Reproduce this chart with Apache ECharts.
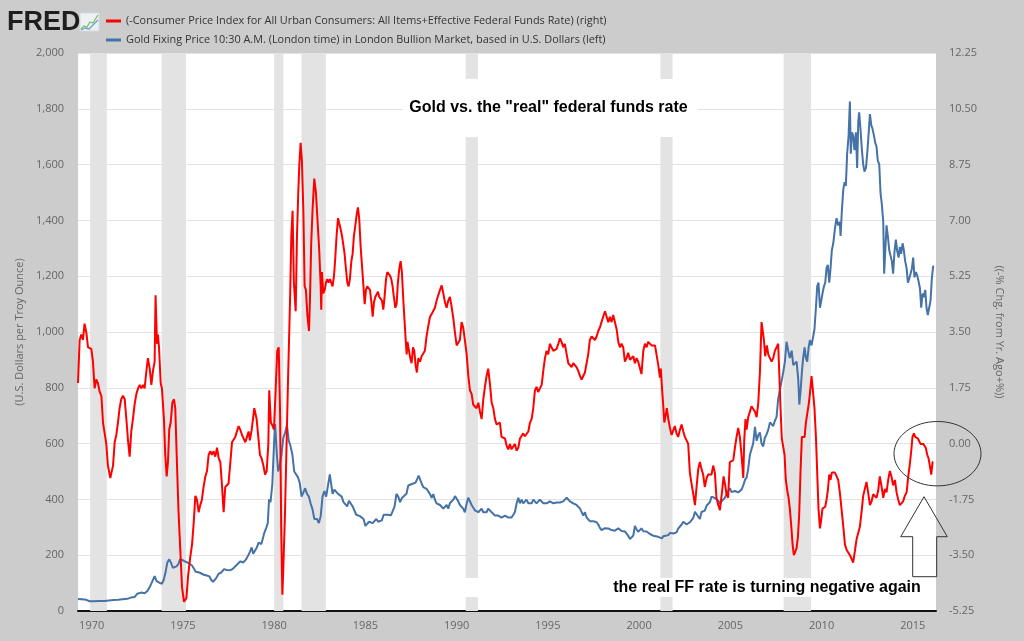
<!DOCTYPE html>
<html><head><meta charset="utf-8">
<script src="https://cdn.jsdelivr.net/npm/echarts@6/dist/echarts.min.js"></script>
<style>html,body{margin:0;padding:0;background:#cccccc}#chart{width:1024px;height:641px}</style>
</head><body><div id="chart"></div>
<script>
const redName = '(-Consumer Price Index for All Urban Consumers: All Items+Effective Federal Funds Rate) (right)';
const goldName = 'Gold Fixing Price 10:30 A.M. (London time) in London Bullion Market, based in U.S. Dollars (left)';
const xTickYears = [1970,1975,1980,1985,1990,1995,2000,2005,2010,2015];
const recessions = [[1969.917,1970.833],[1973.833,1975.167],[1980.0,1980.5],[1981.5,1982.833],[1990.5,1991.167],[2001.167,2001.833],[2007.917,2009.417]];

const realRatePoints = [
[1969.25,1.90],[1969.34,3.25],[1969.43,3.42],[1969.52,3.25],[1969.61,3.76],[1969.71,3.47],[1969.80,3.02],[1969.89,3.08],[1969.98,2.97],[1970.07,2.57],[1970.16,1.73],[1970.25,2.01],[1970.34,1.90],[1970.44,1.62],[1970.53,1.50],[1970.62,0.66],[1970.71,0.60],[1970.80,-0.01],[1970.89,-0.69],[1971.02,-1.08],[1971.17,-0.69],[1971.26,0.04],[1971.35,0.27],[1971.44,0.66],[1971.53,1.11],[1971.62,1.39],[1971.71,1.50],[1971.81,1.39],[1971.90,0.77],[1971.99,0.10],[1972.08,-0.41],[1972.17,0.38],[1972.26,0.77],[1972.35,1.22],[1972.45,1.56],[1972.54,1.73],[1972.63,1.84],[1972.72,1.73],[1972.81,1.84],[1972.90,1.73],[1972.99,2.23],[1973.08,2.68],[1973.18,2.35],[1973.27,1.84],[1973.36,2.29],[1973.45,2.57],[1973.50,4.65],[1973.58,3.13],[1973.63,3.42],[1973.69,3.02],[1973.78,1.90],[1973.85,1.73],[1973.96,0.77],[1974.03,-0.35],[1974.11,-1.03],[1974.18,-0.58],[1974.25,0.44],[1974.33,0.66],[1974.42,1.28],[1974.51,1.39],[1974.58,1.11],[1974.67,-0.58],[1974.76,-2.15],[1974.86,-3.39],[1974.95,-4.51],[1975.06,-4.96],[1975.19,-4.85],[1975.28,-4.17],[1975.39,-3.61],[1975.50,-3.16],[1975.59,-2.49],[1975.68,-1.64],[1975.77,-1.76],[1975.86,-2.15],[1975.95,-1.93],[1976.04,-1.76],[1976.13,-1.36],[1976.23,-1.03],[1976.32,-0.86],[1976.41,-0.35],[1976.50,-0.24],[1976.59,-0.35],[1976.68,-0.24],[1976.77,-0.41],[1976.87,-0.13],[1976.96,-0.46],[1977.05,-0.58],[1977.14,-1.31],[1977.23,-2.15],[1977.32,-1.36],[1977.41,-1.31],[1977.50,-1.25],[1977.60,-0.58],[1977.69,0.04],[1977.78,-0.01],[1977.87,0.21],[1977.96,0.16],[1978.05,0.55],[1978.14,0.44],[1978.24,0.27],[1978.33,0.21],[1978.42,0.04],[1978.51,0.21],[1978.60,0.38],
[1978.67,0.10],[1978.77,0.44],[1978.91,1.11],[1979.04,0.77],[1979.13,0.21],[1979.22,-0.35],[1979.31,-0.46],[1979.41,-0.69],[1979.50,-0.97],[1979.59,-0.86],[1979.68,-0.01],[1979.73,1.67],[1979.82,0.66],[1979.92,0.55],[1979.99,0.44],[1980.08,1.67],[1980.17,2.91],[1980.25,3.02],[1980.32,1.11],[1980.39,-2.83],[1980.45,-4.74],[1980.50,-3.95],[1980.59,-2.26],[1980.68,-0.01],[1980.77,2.23],[1980.87,4.48],[1980.94,6.51],[1981.01,7.30],[1981.08,5.05],[1981.18,4.15],[1981.25,6.51],[1981.32,7.86],[1981.38,8.76],[1981.45,9.43],[1981.52,8.87],[1981.60,7.30],[1981.67,4.93],[1981.74,4.82],[1981.82,4.03],[1981.91,3.53],[1981.96,4.48],[1982.03,6.28],[1982.11,7.41],[1982.20,8.31],[1982.29,7.86],[1982.38,6.96],[1982.47,6.06],[1982.55,4.93],[1982.58,4.20],[1982.62,5.38],[1982.69,4.71],[1982.77,4.82],[1982.84,5.05],[1982.91,5.16],[1982.98,5.05],[1983.06,5.16],[1983.13,5.16],[1983.20,4.93],[1983.28,5.27],[1983.35,5.83],[1983.42,6.51],[1983.50,7.07],[1983.57,7.07],[1983.64,6.73],[1983.72,6.51],[1983.79,6.23],[1983.86,5.95],[1983.93,5.50],[1984.01,5.05],[1984.08,4.93],[1984.15,5.16],[1984.23,5.72],[1984.30,5.95],[1984.37,6.51],[1984.45,6.85],[1984.52,7.18],[1984.59,7.41],[1984.66,7.07],[1984.74,6.17],[1984.81,5.61],[1984.88,5.05],[1984.96,4.37],[1985.03,4.82],[1985.10,4.93],[1985.18,4.88],[1985.25,4.82],[1985.32,4.48],[1985.40,3.98],[1985.47,4.43],[1985.54,4.60],[1985.61,4.65],[1985.69,4.76],[1985.76,4.60],[1985.83,4.54],[1985.91,4.48],[1985.98,4.20],[1986.05,4.60],[1986.13,5.16],[1986.20,5.38],[1986.27,5.44],[1986.35,5.27],[1986.42,5.16],[1986.49,4.93],[1986.56,4.60],[1986.64,4.26],[1986.71,4.37],[1986.78,5.05],[1986.86,5.50],[1986.93,5.72],[1987.00,5.38],[1987.08,4.48],[1987.15,3.81],[1987.22,3.13],[1987.26,2.80],[1987.31,3.19],[1987.39,2.91],[1987.46,2.68],[1987.53,2.52],[1987.61,3.02],[1987.68,2.91],[1987.75,2.46],[1987.82,2.23],[1987.90,2.68],
[1987.99,2.57],[1988.08,2.74],[1988.17,2.68],[1988.26,2.91],[1988.35,3.36],[1988.45,3.70],[1988.54,3.98],[1988.63,4.06],[1988.72,4.09],[1988.81,4.26],[1988.90,4.48],[1988.99,4.65],[1989.09,4.82],[1989.18,4.96],[1989.27,4.71],[1989.36,4.43],[1989.45,4.26],[1989.54,4.48],[1989.63,4.60],[1989.72,4.31],[1989.82,3.92],[1989.91,3.47],[1990.00,3.08],[1990.09,3.02],[1990.18,3.25],[1990.27,3.81],[1990.36,3.64],[1990.45,3.25],[1990.55,2.80],[1990.64,2.12],[1990.73,1.67],[1990.82,1.56],[1990.91,1.22],[1991.00,1.28],[1991.09,1.11],[1991.19,1.28],[1991.28,1.00],[1991.37,0.77],[1991.46,1.39],[1991.55,1.78],[1991.64,2.12],[1991.73,2.35],[1991.82,1.90],[1991.92,1.28],[1992.01,1.11],[1992.10,0.77],[1992.19,0.60],[1992.28,0.55],[1992.37,0.66],[1992.46,0.21],[1992.55,0.21],[1992.65,0.16],[1992.74,-0.07],[1992.83,-0.18],[1992.92,-0.01],[1993.01,-0.18],[1993.10,-0.13],[1993.19,-0.01],[1993.29,-0.22],[1993.38,-0.13],[1993.47,0.16],[1993.56,0.21],[1993.65,0.32],[1993.74,0.23],[1993.83,0.21],[1993.93,0.38],[1994.02,0.66],[1994.11,0.77],[1994.20,1.11],[1994.29,1.67],[1994.38,1.78],[1994.47,1.62],[1994.56,1.56],[1994.66,1.84],[1994.75,2.29],[1994.84,2.68],[1994.93,2.91],[1995.02,2.80],[1995.11,3.13],[1995.20,3.02],[1995.30,2.91],[1995.39,2.97],[1995.48,2.97],[1995.57,3.13],[1995.66,3.30],[1995.75,3.19],[1995.84,3.02],[1995.93,3.13],[1996.03,2.80],[1996.12,2.52],[1996.21,2.46],[1996.30,2.40],[1996.39,2.52],[1996.48,2.46],[1996.57,2.40],[1996.66,2.29],[1996.76,2.12],[1996.85,2.01],[1996.94,1.95],[1997.03,2.23],[1997.12,2.29],[1997.21,2.80],[1997.30,3.25],[1997.40,3.36],[1997.49,3.36],
[1997.58,3.25],[1997.67,3.36],[1997.76,3.53],[1997.85,3.64],[1997.94,3.81],[1998.03,3.98],[1998.13,4.15],[1998.22,3.98],[1998.31,3.81],[1998.40,3.98],[1998.49,3.81],[1998.58,4.03],[1998.67,4.06],[1998.77,3.58],[1998.86,3.19],[1998.95,3.02],[1999.04,3.13],[1999.13,3.02],[1999.22,2.57],[1999.31,2.68],[1999.40,2.85],[1999.50,2.63],[1999.59,2.68],[1999.68,2.74],[1999.77,2.52],[1999.86,2.68],[1999.95,2.57],[2000.04,2.63],[2000.13,2.18],[2000.23,2.91],[2000.32,3.13],[2000.41,3.02],[2000.50,3.19],[2000.59,3.13],[2000.68,3.08],[2000.77,3.13],[2000.87,3.08],[2000.96,3.02],[2001.05,2.46],[2001.14,2.07],[2001.19,2.35],[2001.25,1.78],[2001.32,1.22],[2001.38,0.66],[2001.45,0.88],[2001.52,1.11],[2001.60,0.77],[2001.69,0.49],[2001.78,0.27],[2001.87,0.21],[2001.96,0.55],[2002.05,0.32],[2002.14,0.21],[2002.24,0.44],[2002.33,0.60],[2002.42,0.38],[2002.51,0.21],[2002.60,0.16],[2002.69,-0.01],[2002.78,-0.91],[2002.87,-1.25],[2002.97,-1.59],[2003.06,-1.93],[2003.15,-1.36],[2003.24,-0.80],[2003.33,-0.58],[2003.42,-0.80],[2003.51,-0.97],[2003.60,-1.36],[2003.70,-1.08],[2003.79,-0.97],[2003.88,-0.91],[2003.97,-0.97],[2004.06,-0.69],[2004.15,-0.91],[2004.24,-1.70],[2004.34,-1.93],[2004.43,-2.09],[2004.48,-1.81],[2004.55,-1.48],[2004.63,-1.03],[2004.70,-1.25],[2004.79,-1.59],[2004.88,-1.70],[2004.97,-0.58],[2005.07,-0.52],[2005.16,-0.52],[2005.25,-0.13],[2005.34,0.21],[2005.43,0.49],[2005.52,0.21],[2005.61,-0.35],[2005.71,-1.08],[2005.76,0.10],[2005.83,0.77],[2005.89,0.44],[2005.98,0.83],[2006.07,0.88],[2006.16,1.17],[2006.25,1.22],[2006.35,1.00],[2006.44,0.83],[2006.53,1.28],[2006.62,2.23],[2006.71,3.81],[2006.77,3.87],[2006.84,3.25],[2006.91,2.74],[2007.00,3.08],[2007.08,2.80],
[2007.17,2.68],[2007.26,2.57],[2007.35,2.68],[2007.44,2.91],[2007.53,3.02],[2007.62,3.13],[2007.68,2.23],[2007.75,1.11],[2007.82,0.16],[2007.90,0.10],[2007.97,-0.35],[2008.04,-1.14],[2008.12,-1.48],[2008.19,-1.70],[2008.26,-2.04],[2008.34,-2.60],[2008.41,-3.16],[2008.48,-3.50],[2008.56,-3.39],[2008.63,-3.28],[2008.70,-2.94],[2008.77,-2.26],[2008.85,-0.80],[2008.92,0.21],[2008.99,0.27],[2009.07,0.21],[2009.14,0.66],[2009.21,0.72],[2009.29,1.22],[2009.36,1.56],[2009.45,2.12],[2009.54,1.56],[2009.61,1.11],[2009.69,0.21],[2009.76,-0.91],[2009.83,-2.04],[2009.91,-2.66],[2009.98,-2.38],[2010.05,-2.04],[2010.13,-2.04],[2010.20,-1.98],[2010.27,-1.76],[2010.34,-1.48],[2010.42,-0.97],[2010.49,-1.14],[2010.56,-0.91],[2010.64,-0.97],[2010.73,-0.91],[2010.82,-0.86],[2010.91,-1.14],[2011.00,-1.53],[2011.09,-2.04],[2011.19,-2.60],[2011.28,-3.16],[2011.37,-3.33],[2011.46,-3.33],[2011.55,-3.50],[2011.64,-3.61],[2011.73,-3.73],[2011.82,-3.39],[2011.92,-2.99],[2012.01,-2.94],[2012.10,-2.60],[2012.19,-2.15],[2012.28,-1.64],[2012.37,-1.42],[2012.46,-1.20],[2012.55,-1.53],[2012.65,-1.93],[2012.74,-1.81],[2012.83,-1.59],[2012.92,-1.64],[2013.01,-1.70],[2013.10,-1.48],[2013.19,-1.03],[2013.29,-1.36],[2013.38,-1.70],[2013.47,-1.42],[2013.56,-1.53],[2013.65,-1.14],[2013.74,-0.86],[2013.83,-1.03],[2013.92,-1.31],[2014.02,-1.14],[2014.11,-1.53],[2014.20,-1.76],[2014.29,-1.93],[2014.38,-1.98],[2014.47,-1.81],[2014.56,-1.64],[2014.66,-1.53],[2014.75,-1.03],[2014.84,-0.63],[2014.93,-0.13],[2014.98,0.21],[2015.06,0.32],[2015.13,0.21],[2015.20,0.27],[2015.28,0.16],[2015.35,0.10],[2015.42,-0.01],[2015.50,-0.07],[2015.57,-0.01],[2015.64,0.04],[2015.71,-0.13],[2015.79,-0.35],[2015.86,-0.46],[2015.93,-0.69],[2016.01,-0.97],[2016.08,-0.58],[2016.12,-0.58]
];

const goldPoints = [
[1969.25,43],[1969.45,42],[1969.70,40],[1969.90,35],[1970.10,35],[1970.40,35.5],[1970.70,36],[1970.95,37.5],[1971.20,39],[1971.45,40],[1971.70,42],[1971.95,43.5],[1972.15,48],[1972.35,50],[1972.50,62],[1972.70,66],[1972.90,63.5],[1973.05,72],[1973.20,88],[1973.30,92],[1973.45,125],[1973.55,108],[1973.70,102],[1973.85,97],[1973.95,112],[1974.05,140],[1974.15,175],[1974.25,185],[1974.35,172],[1974.45,155],[1974.55,158],[1974.65,160],[1974.75,168],[1974.85,186],[1974.95,190],[1975.05,180],[1975.15,182],[1975.30,172],[1975.40,166],[1975.50,163],[1975.60,152],[1975.70,141],[1975.80,142],[1975.90,138],[1976.00,132],[1976.15,130],[1976.30,127],[1976.45,124],[1976.55,112],[1976.65,104],[1976.80,116],[1976.95,133],[1977.10,138],[1977.25,150],[1977.40,147],[1977.50,142],[1977.60,146],[1977.75,152],[1977.90,162],[1978.00,168],[1978.15,178],[1978.30,174],[1978.45,184],[1978.60,202],
[1978.67,212],[1978.77,228],[1978.85,205],[1978.95,200],[1979.05,228],[1979.15,245],[1979.30,240],[1979.45,278],[1979.55,295],[1979.65,315],[1979.72,400],[1979.80,390],[1979.90,455],[1980.00,610],[1980.05,670],[1980.15,560],[1980.22,500],[1980.30,520],[1980.40,560],[1980.50,620],[1980.60,640],[1980.70,665],[1980.80,610],[1980.90,590],[1981.00,560],[1981.10,500],[1981.20,505],[1981.30,480],[1981.40,460],[1981.50,410],[1981.60,410],[1981.70,440],[1981.80,420],[1981.90,410],[1982.00,385],[1982.10,365],[1982.20,330],[1982.35,330],[1982.45,315],[1982.55,340],[1982.65,410],[1982.75,430],[1982.85,410],[1982.95,450],[1983.05,490],[1983.12,495],[1983.20,420],[1983.30,435],[1983.40,440],[1983.50,420],[1983.60,415],[1983.70,410],[1983.80,390],[1983.90,385],[1984.00,375],[1984.10,395],[1984.20,390],[1984.30,375],[1984.40,375],[1984.50,345],[1984.60,345],[1984.70,340],[1984.80,335],[1984.90,330],[1985.00,305],[1985.10,300],[1985.20,320],[1985.30,325],[1985.40,315],[1985.50,317],[1985.60,330],[1985.70,320],[1985.80,325],[1985.90,325],[1986.00,345],[1986.10,340],[1986.20,345],[1986.30,340],[1986.40,343],[1986.50,345],[1986.60,375],[1986.70,420],[1986.80,410],[1986.90,390],[1987.00,405],[1987.10,400],[1987.25,420],[1987.35,450],[1987.45,445],[1987.55,455],[1987.65,460],[1987.75,460],[1987.85,465],[1987.92,485],
[1987.99,489],[1988.08,457],[1988.17,444],[1988.26,450],[1988.35,438],[1988.45,431],[1988.54,419],[1988.63,406],[1988.72,419],[1988.81,399],[1988.90,386],[1988.99,386],[1989.09,380],[1989.18,374],[1989.27,367],[1989.36,374],[1989.45,380],[1989.54,367],[1989.63,386],[1989.72,380],[1989.82,399],[1989.91,412],[1990.00,419],[1990.09,393],[1990.18,380],[1990.27,374],[1990.36,367],[1990.45,354],[1990.55,386],[1990.64,406],[1990.73,393],[1990.82,380],[1990.91,374],[1991.00,361],[1991.09,361],[1991.19,354],[1991.28,361],[1991.37,367],[1991.46,354],[1991.55,348],[1991.64,354],[1991.73,367],[1991.82,361],[1991.92,354],[1992.01,348],[1992.10,342],[1992.19,348],[1992.28,342],[1992.37,348],[1992.46,335],[1992.55,342],[1992.65,342],[1992.74,335],[1992.83,335],[1992.92,342],[1993.01,335],[1993.10,342],[1993.19,354],[1993.29,386],[1993.38,406],[1993.47,386],[1993.56,399],[1993.65,386],[1993.74,393],[1993.83,399],[1993.93,386],[1994.02,393],[1994.11,386],[1994.20,399],[1994.29,393],[1994.38,386],[1994.47,393],[1994.56,399],[1994.66,393],[1994.75,386],[1994.84,393],[1994.93,386],[1995.02,386],[1995.11,393],[1995.20,389],[1995.30,386],[1995.39,393],[1995.48,389],[1995.57,386],[1995.66,389],[1995.75,386],[1995.84,393],[1995.93,399],[1996.03,406],[1996.12,399],[1996.21,393],[1996.30,389],[1996.39,386],[1996.48,389],[1996.57,380],[1996.66,374],[1996.76,367],[1996.85,361],[1996.94,342],[1997.03,354],[1997.12,335],[1997.21,329],[1997.30,322],[1997.40,316],[1997.49,322],
[1997.58,322],[1997.67,318],[1997.76,310],[1997.85,298],[1997.94,290],[1998.03,290],[1998.13,297],[1998.22,300],[1998.31,296],[1998.40,298],[1998.49,290],[1998.58,284],[1998.67,288],[1998.77,295],[1998.86,296],[1998.95,290],[1999.04,287],[1999.13,288],[1999.22,285],[1999.31,280],[1999.40,270],[1999.50,258],[1999.59,256],[1999.68,270],[1999.77,305],[1999.86,292],[1999.95,284],[2000.04,288],[2000.13,296],[2000.23,286],[2000.32,280],[2000.41,285],[2000.50,288],[2000.59,276],[2000.68,272],[2000.77,270],[2000.87,265],[2001.05,266],[2001.14,262],[2001.25,260],[2001.32,268],[2001.45,270],[2001.60,272],[2001.69,280],[2001.78,284],[2001.87,278],[2001.96,276],[2002.05,282],[2002.14,295],[2002.24,302],[2002.33,310],[2002.42,320],[2002.51,316],[2002.60,310],[2002.69,314],[2002.78,318],[2002.87,320],[2002.97,334],[2003.06,356],[2003.15,358],[2003.24,338],[2003.33,330],[2003.42,355],[2003.51,356],[2003.60,360],[2003.70,378],[2003.79,385],[2003.88,390],[2003.97,410],[2004.06,412],[2004.15,405],[2004.24,408],[2004.34,395],[2004.43,385],[2004.52,393],[2004.61,400],[2004.70,406],[2004.79,418],[2004.88,430],[2004.97,440],[2005.07,426],[2005.16,428],[2005.25,430],[2005.34,428],[2005.43,425],[2005.52,424],[2005.61,435],[2005.71,450],[2005.80,470],[2005.89,478],[2005.98,510],[2006.07,560],[2006.16,565],[2006.25,600],[2006.35,660],[2006.44,610],[2006.53,630],[2006.62,640],[2006.71,600],[2006.80,590],[2006.89,620],[2006.98,632],[2007.08,650],
[2007.17,676],[2007.26,669],[2007.35,663],[2007.44,682],[2007.53,695],[2007.62,759],[2007.71,791],[2007.80,798],[2007.90,856],[2007.99,894],[2008.08,965],[2008.17,933],[2008.26,907],[2008.36,933],[2008.45,881],[2008.54,875],[2008.63,894],[2008.72,830],[2008.78,740],[2008.85,791],[2008.92,856],[2008.99,907],[2009.07,945],[2009.14,907],[2009.21,894],[2009.29,945],[2009.36,971],[2009.45,952],[2009.54,958],[2009.61,1010],[2009.69,1087],[2009.76,1164],[2009.83,1177],[2009.91,1087],[2009.98,1112],[2010.05,1138],[2010.13,1164],[2010.20,1177],[2010.27,1228],[2010.34,1241],[2010.42,1177],[2010.49,1228],[2010.56,1292],[2010.64,1318],[2010.73,1370],[2010.82,1408],[2010.91,1382],[2011.00,1395],[2011.04,1344],[2011.11,1434],[2011.19,1511],[2011.26,1537],[2011.33,1524],[2011.40,1639],[2011.48,1704],[2011.55,1826],[2011.60,1639],[2011.66,1716],[2011.73,1704],[2011.80,1652],[2011.88,1716],[2011.95,1588],[2012.01,1755],[2012.06,1787],[2012.13,1729],[2012.21,1652],[2012.28,1601],[2012.35,1575],[2012.43,1588],[2012.50,1639],[2012.57,1704],[2012.65,1781],[2012.72,1742],[2012.79,1729],[2012.87,1704],[2012.94,1678],[2013.01,1665],[2013.08,1614],[2013.16,1601],[2013.23,1498],[2013.30,1459],[2013.38,1395],[2013.43,1209],[2013.49,1292],[2013.56,1382],[2013.63,1344],[2013.71,1292],[2013.78,1292],[2013.85,1254],[2013.92,1209],[2014.00,1292],[2014.07,1331],[2014.14,1292],[2014.22,1267],[2014.29,1305],[2014.36,1280],[2014.44,1318],[2014.51,1292],[2014.58,1254],[2014.66,1228],[2014.73,1177],[2014.80,1190],[2014.88,1196],[2014.95,1228],[2015.02,1267],[2015.09,1196],[2015.17,1215],[2015.24,1203],[2015.31,1183],[2015.39,1157],[2015.46,1087],[2015.53,1138],[2015.60,1125],[2015.68,1151],[2015.75,1087],[2015.82,1061],[2015.90,1068],[2015.97,1112],[2016.04,1190],[2016.11,1235],[2016.17,1235]
];

const chart = echarts.init(document.getElementById('chart'), null, {renderer: 'canvas'});
const labelFont = 'Open Sans';
const axisLabelColor = '#666666';

const option = {
  backgroundColor: '#cccccc',
  animation: false,
  grid: {left: 78, right: 88, top: 53, bottom: 30, show: true, backgroundColor: '#ffffff', borderWidth: 0},
  legend: {
    orient: 'vertical', left: 106, top: 14, padding: 0, itemGap: 5,
    itemWidth: 15, itemHeight: 3, icon: 'rect', selectedMode: false,
    data: [redName, goldName],
    textStyle: {fontFamily: labelFont, fontSize: 10.9, color: '#333333', lineHeight: 14}
  },
  xAxis: {
    type: 'value', min: 1969.25, max: 2016.27,
    axisLine: {show: true, onZero: false, lineStyle: {color: '#111111', width: 2}},
    axisTick: {show: false},
    splitLine: {show: false},
    axisLabel: {customValues: xTickYears, formatter: v => String(Math.round(v)), color: axisLabelColor, fontSize: 11, fontFamily: labelFont, margin: 9}
  },
  yAxis: [
    {
      type: 'value', position: 'left', min: 0, max: 2000, interval: 200,
      name: '(U.S. Dollars per Troy Ounce)', nameLocation: 'middle', nameGap: 41, nameRotate: 90,
      nameTextStyle: {fontFamily: labelFont, fontSize: 11, color: axisLabelColor},
      axisLine: {show: false}, axisTick: {show: false},
      splitLine: {show: true, lineStyle: {color: '#e2e2e2', width: 1}},
      axisLabel: {color: axisLabelColor, fontSize: 11, fontFamily: labelFont, margin: 14,
        formatter: v => v.toLocaleString('en-US')}
    },
    {
      type: 'value', position: 'right', min: -5.25, max: 12.25, interval: 1.75,
      name: '((-% Chg. from Yr. Ago+%))', nameLocation: 'middle', nameGap: 58, nameRotate: -90,
      nameTextStyle: {fontFamily: labelFont, fontSize: 11, color: axisLabelColor},
      axisLine: {show: false}, axisTick: {show: false}, splitLine: {show: false},
      axisLabel: {color: axisLabelColor, fontSize: 11, fontFamily: labelFont, margin: 13,
        formatter: v => v.toFixed(2)}
    }
  ],
  series: [
    {
      name: goldName, type: 'line', yAxisIndex: 0, data: goldPoints, showSymbol: false, z: 3,
      lineStyle: {color: '#4572a7', width: 2}, itemStyle: {color: '#4572a7'},
      emphasis: {disabled: true}, silent: true,
      markArea: {silent: true, itemStyle: {color: '#e3e3e3'},
        data: recessions.map(r => [{xAxis: r[0]}, {xAxis: r[1]}])}
    },
    {
      name: redName, type: 'line', yAxisIndex: 1, data: realRatePoints, showSymbol: false, z: 4,
      lineStyle: {color: '#ff0000', width: 2}, itemStyle: {color: '#ff0000'},
      emphasis: {disabled: true}, silent: true
    }
  ],
  graphic: [
    {type: 'text', left: 7, top: 9, z: 50, style: {text: 'FRED', font: 'bold 27px "Liberation Sans", Arial, sans-serif', fill: '#1e1e1e'}},
    {type: 'rect', shape: {x: 80, y: 13, width: 19, height: 18}, z: 50, style: {fill: '#eef1f3', stroke: '#d5dade', lineWidth: 1}},
    {type: 'polyline', shape: {points: [[81,29],[84,26],[87,27],[90,22],[93,23],[98,15]]}, z: 51, style: {stroke: '#7bbf6a', lineWidth: 1.3, fill: null}},
    {type: 'polyline', shape: {points: [[81,30],[85,28],[89,29],[93,25],[98,20]]}, z: 51, style: {stroke: '#6f9fcf', lineWidth: 1.3, fill: null}},
    {type: 'rect', shape: {x: 403, y: 79, width: 295, height: 58}, z: 60, style: {fill: '#ffffff'}},
    {type: 'text', x: 548.5, y: 108, z: 61, style: {text: 'Gold vs. the "real" federal funds rate', font: 'bold 16px "Liberation Sans", Arial, sans-serif', fill: '#000000', align: 'center', verticalAlign: 'middle'}},
    {type: 'rect', shape: {x: 460, y: 578, width: 475, height: 19}, z: 60, style: {fill: '#ffffff'}},
    {type: 'text', x: 767, y: 587.5, z: 61, style: {text: 'the real FF rate is turning negative again', font: 'bold 16px "Liberation Sans", Arial, sans-serif', fill: '#000000', align: 'center', verticalAlign: 'middle'}},
    {type: 'ellipse', shape: {cx: 937.5, cy: 453.7, rx: 43.5, ry: 32.2}, z: 62, style: {fill: null, stroke: '#333333', lineWidth: 1}},
    {type: 'polygon', shape: {points: [[924,496.7],[947.3,536.7],[936.7,536.7],[936.7,576.7],[912.7,576.7],[912.7,536.7],[900.7,536.7]]}, z: 62, style: {fill: null, stroke: '#333333', lineWidth: 1}}
  ]
};
chart.setOption(option);
</script></body></html>
